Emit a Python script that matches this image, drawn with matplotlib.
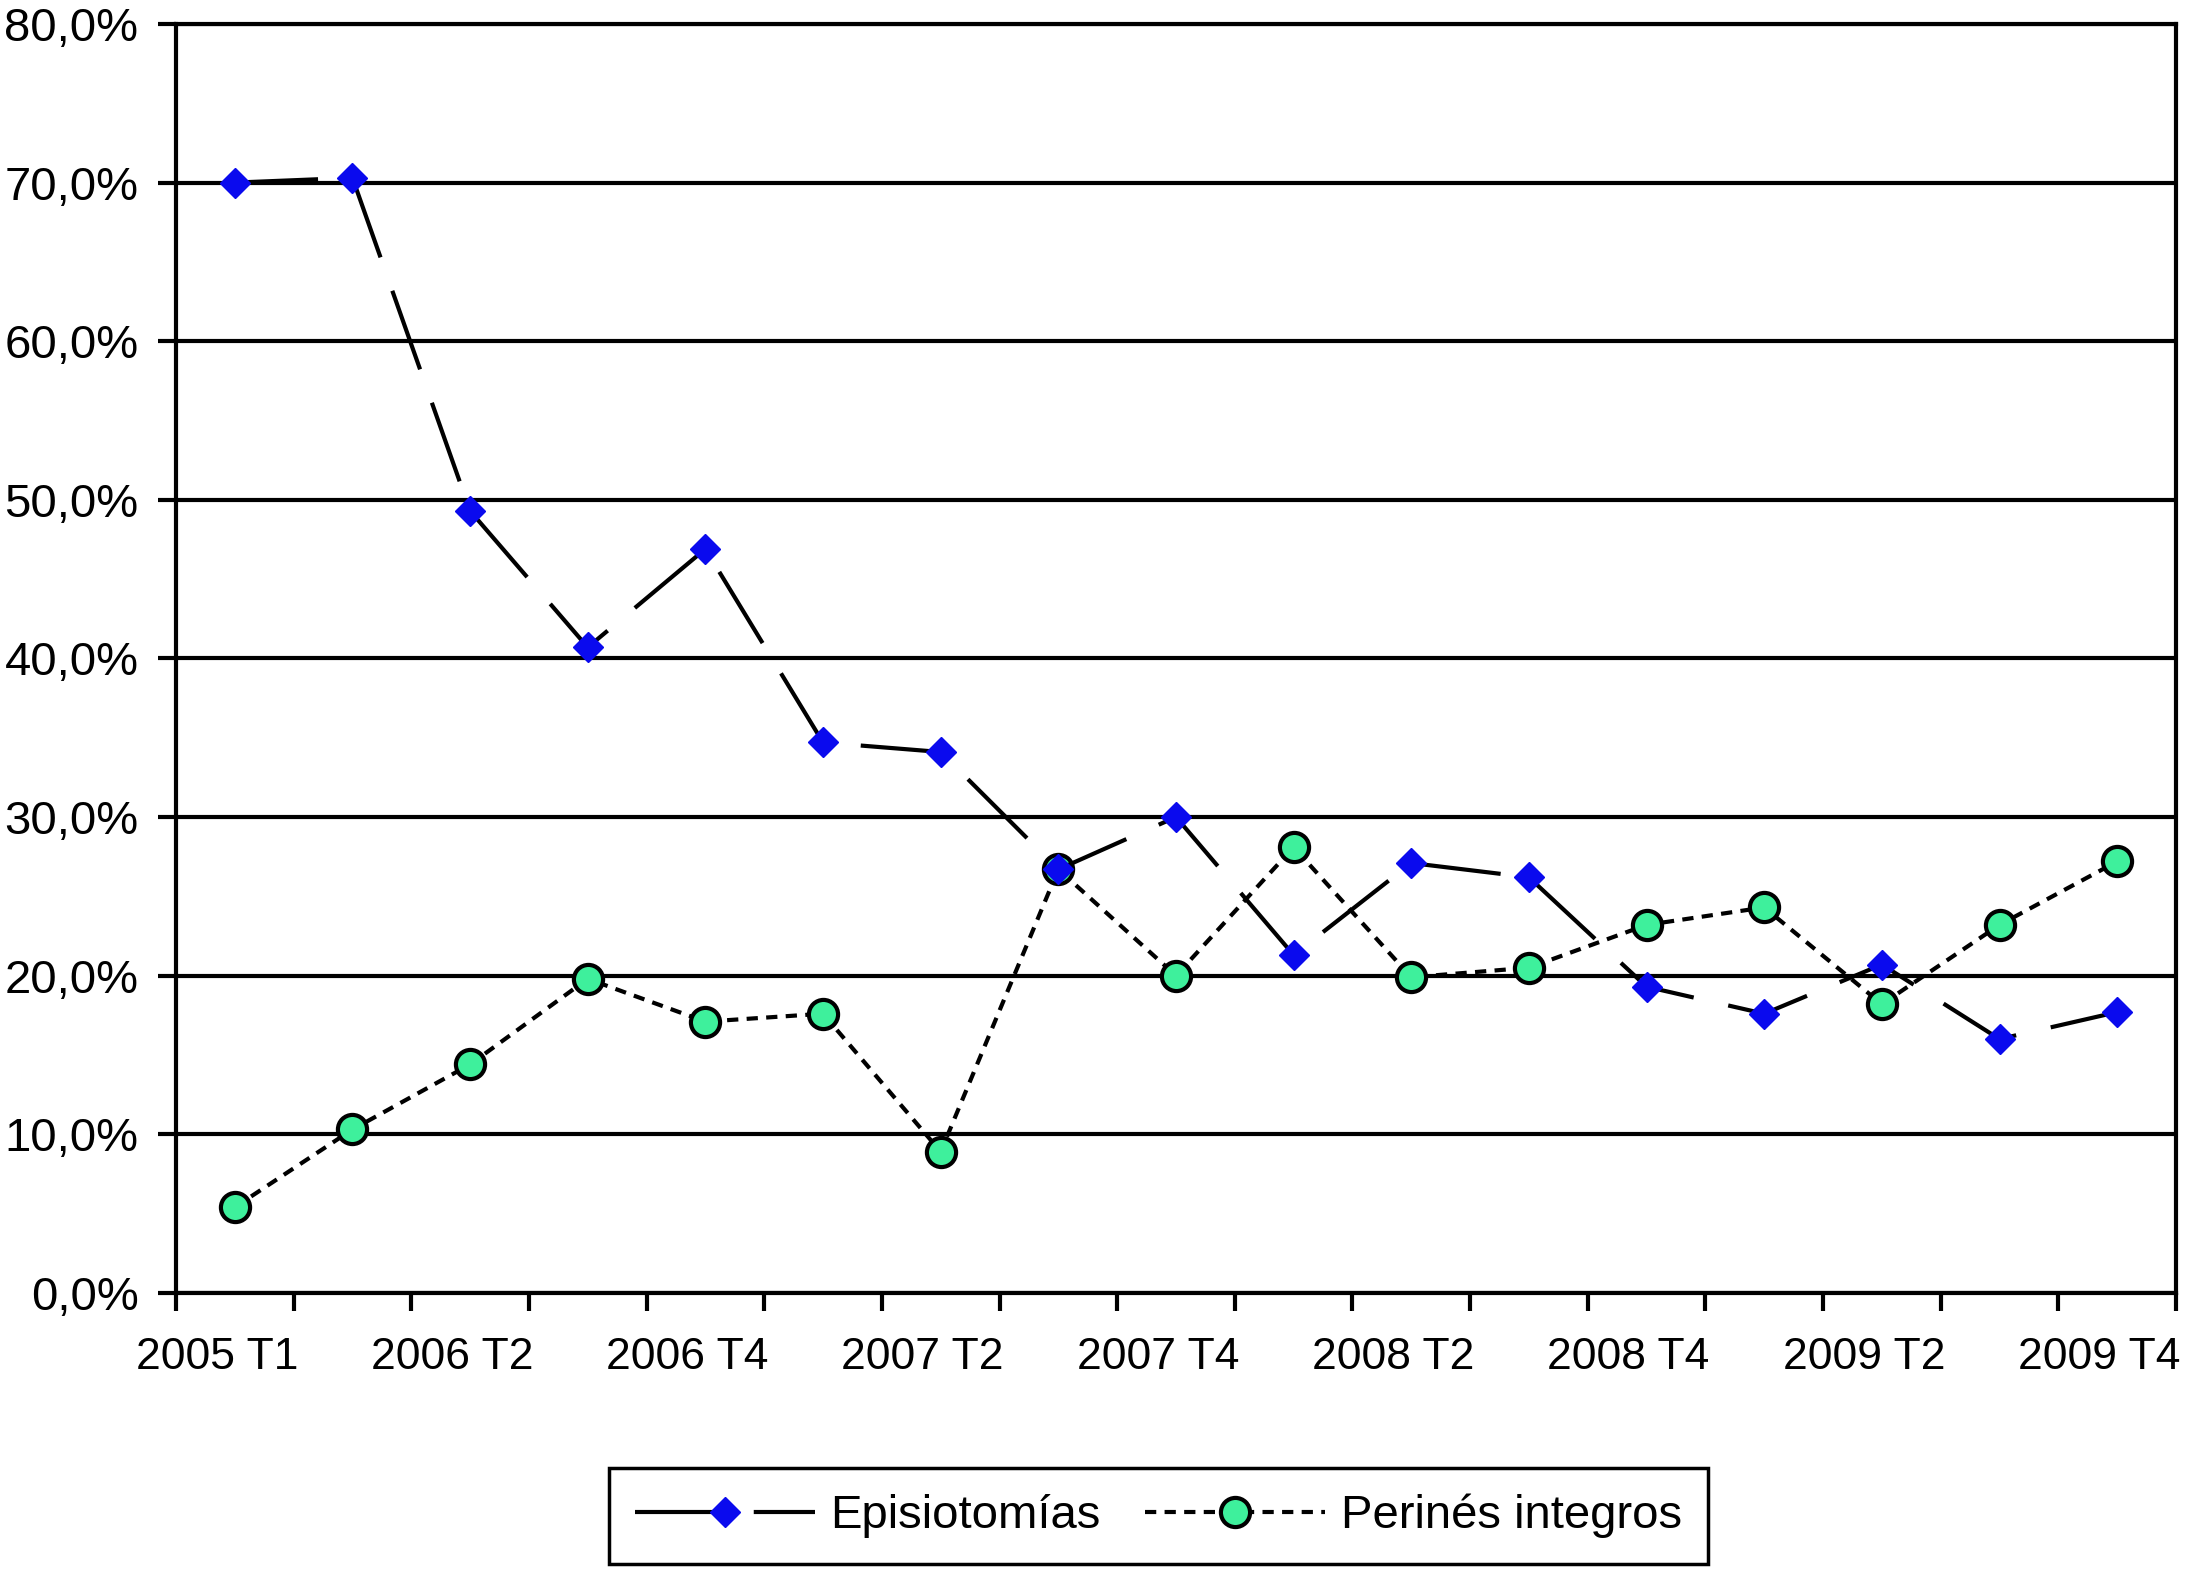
import matplotlib.pyplot as plt
from matplotlib.ticker import FixedLocator
from matplotlib.transforms import ScaledTranslation

# Data
trimestres = ['2005 T1', '2006 T1', '2006 T2', '2006 T3', '2006 T4',
              '2007 T1', '2007 T2', '2007 T3', '2007 T4',
              '2008 T1', '2008 T2', '2008 T3', '2008 T4',
              '2009 T1', '2009 T2', '2009 T3', '2009 T4']
episiotomias = [70.0, 70.3, 49.3, 40.7, 46.9, 34.7, 34.1, 26.7, 30.0,
                21.3, 27.1, 26.2, 19.3, 17.6, 20.7, 16.0, 17.7]
perines = [5.4, 10.3, 14.4, 19.8, 17.1, 17.6, 8.9, 26.7, 20.0,
           28.1, 19.9, 20.5, 23.2, 24.3, 18.2, 23.2, 27.2]
y_ticks = [0, 10, 20, 30, 40, 50, 60, 70, 80]
y_labels = ['0,0%', '10,0%', '20,0%', '30,0%', '40,0%',
            '50,0%', '60,0%', '70,0%', '80,0%']

plt.rcParams['font.family'] = ['Liberation Sans', 'DejaVu Sans']

fig = plt.figure(figsize=(21.94, 15.69), dpi=100)
ax = fig.add_axes([0.0802, 0.176, 0.9116, 0.8087])

x = list(range(len(trimestres)))
lw = 3.0

# Perinés integros (short dashes, green circles)
l2, = ax.plot(x, perines, color='black', linewidth=lw, dashes=(2.7, 2.0),
              marker='o', markersize=21, markerfacecolor='#3ef09c',
              markeredgecolor='black', markeredgewidth=3, zorder=3,
              label='Perinés integros')
# Episiotomías (long dashes, blue diamonds)
l1, = ax.plot(x, episiotomias, color='black', linewidth=lw, dashes=(20, 8.5),
              marker='D', markersize=15, markerfacecolor='#0a0aee',
              markeredgecolor='#0a0aee', zorder=4, label='Episiotomías')

ax.set_xlim(-0.5, len(trimestres) - 0.5)
ax.set_ylim(0, 80)

ax.set_yticks(y_ticks)
ax.set_yticklabels(y_labels)
ax.yaxis.grid(True, color='black', linewidth=lw)
ax.set_axisbelow(True)

# labels every second quarter, tick marks at category boundaries
ax.set_xticks(x[::2])
ax.set_xticklabels(trimestres[::2])
ax.xaxis.set_minor_locator(FixedLocator([i - 0.5 for i in range(len(trimestres) + 1)]))

ax.tick_params(axis='y', which='major', length=13, width=lw, pad=14, labelsize=34)
ax.tick_params(axis='x', which='major', length=0, pad=32, labelsize=32)
ax.tick_params(axis='x', which='minor', length=13, width=lw)

# labels sit a bit left of the category centre, as in the original
shift = ScaledTranslation(-0.18, 0, fig.dpi_scale_trans)
for lab in ax.get_xticklabels():
    lab.set_transform(lab.get_transform() + shift)

for side in ['left', 'bottom', 'right', 'top']:
    ax.spines[side].set_linewidth(lw)
    ax.spines[side].set_color('black')

leg = fig.legend(handles=[l1, l2], loc='lower center', bbox_to_anchor=(0.528, 0.003),
                 ncol=2, fontsize=34, frameon=True, fancybox=False,
                 edgecolor='black', framealpha=1, handlelength=3.8,
                 handletextpad=0.33, columnspacing=0.95, borderpad=0.55,
                 borderaxespad=0)
leg.get_frame().set_linewidth(2.5)

fig.savefig('out.png', dpi=100)
